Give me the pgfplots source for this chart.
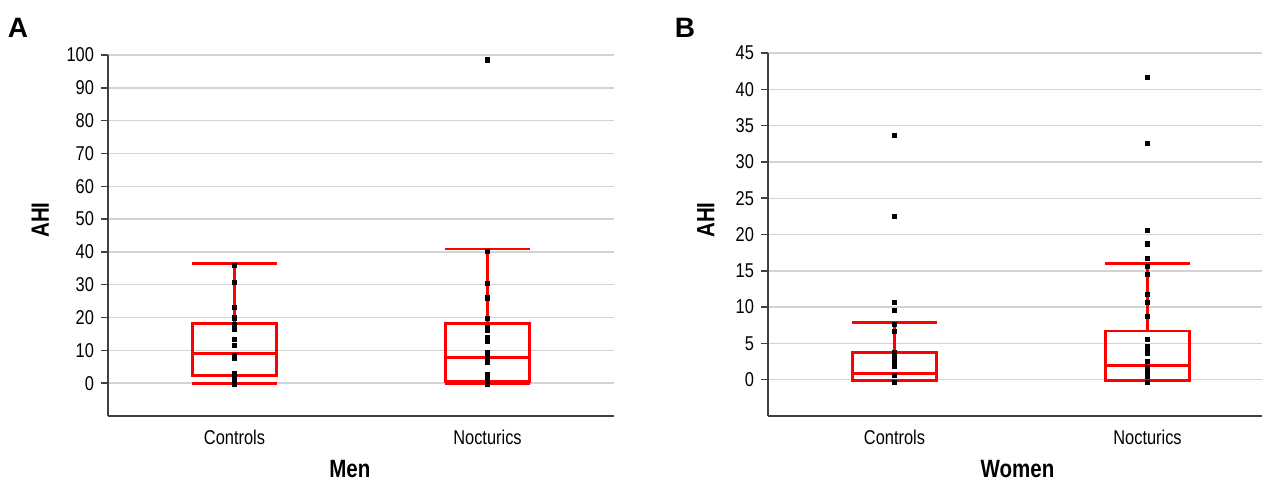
\documentclass[border=0pt]{standalone}
\usepackage{fontspec}
\setmainfont{Liberation Sans}[FakeStretch=0.82]
\newfontfamily\panelfont{Liberation Sans}
\usepackage{pgfplots}
\pgfplotsset{compat=1.18}
\usepgfplotslibrary{statistics}
\definecolor{gridgray}{HTML}{D3D3D3}
\definecolor{axgray}{HTML}{404040}
\pgfplotsset{mystyle/.style={
  scale only axis, width=253pt,
  xmin=-0.5, xmax=1.5, xtick={0,1}, xticklabels={Controls,Nocturics},
  axis x line*=bottom, axis y line*=left,
  axis line style={axgray, line width=0.75pt},
  xtick style={draw=none}, ytick style={axgray, line width=0.75pt},
  tick align=outside, major tick length=3.5pt,
  ymajorgrids, grid style={gridgray, line width=0.7pt},
  tick label style={font=\fontsize{10}{12}\selectfont, black},
  /pgf/number format/assume math mode=true,
  label style={font=\bfseries\fontsize{12.5}{15}\selectfont},
  boxplot/draw direction=y,
  boxplot/box extend=0.335, boxplot/whisker extend=0.335,
  clip=false,
}}
\begin{document}
\begin{tikzpicture}
\useasboundingbox (0,0) rectangle (631pt,240.5pt);
% Panel A
\begin{axis}[mystyle, at={(54pt,32.5pt)}, anchor=south west, height=180.5pt,
  ymin=-10, ymax=100, ytick={0,10,...,100},
  xlabel={Men}, ylabel={AHI},
  xlabel style={at={(axis description cs:0.478,0)}, anchor=center, yshift=-26.6pt},
  ylabel style={at={(axis description cs:-0.134,0.543)}, anchor=center}]
\addplot[red, line width=1.4pt, boxplot prepared={draw position=0, median=9.0, upper quartile=18.2, lower quartile=2.4, upper whisker=36.5, lower whisker=0}] coordinates {};
\addplot[red, line width=1.4pt, boxplot prepared={draw position=1, median=7.9, upper quartile=18.1, lower quartile=0.6, upper whisker=40.9, lower whisker=0}] coordinates {};
\addplot[only marks, mark=square*, mark size=1.05pt, black] coordinates {
 (0,36) (0,30.8) (0,23) (0,19.9) (0,18) (0,17.2) (0,16.5) (0,13.4) (0,11.6) (0,8.5) (0,7.5) (0,3) (0,2) (0,1) (0,0) (0,-0.4)
};
\addplot[only marks, mark=square*, mark size=1.05pt, black] coordinates {
 (1,98.5) (1,40.2) (1,30.4) (1,26) (1,19.8) (1,17) (1,16) (1,14) (1,12.8) (1,9.5) (1,8.5) (1,7.5) (1,6.5) (1,2.5) (1,1.5) (1,0.5) (1,0) (1,-0.4)
};
\end{axis}
% Panel B
\begin{axis}[mystyle, at={(384pt,32.5pt)}, anchor=south west, height=181.5pt,
  ymin=-5, ymax=45, ytick={0,5,...,45},
  xlabel={Women}, ylabel={AHI},
  xlabel style={at={(axis description cs:0.493,0)}, anchor=center, yshift=-26.6pt},
  ylabel style={at={(axis description cs:-0.123,0.54)}, anchor=center}]
\addplot[red, line width=1.4pt, boxplot prepared={draw position=0, median=0.9, upper quartile=3.75, lower quartile=-0.15, upper whisker=7.9, lower whisker=-0.15}] coordinates {};
\addplot[red, line width=1.4pt, boxplot prepared={draw position=1, median=2.0, upper quartile=6.7, lower quartile=-0.15, upper whisker=16.0, lower whisker=-0.15}] coordinates {};
\addplot[only marks, mark=square*, mark size=1.05pt, black] coordinates {
 (0,33.6) (0,22.5) (0,10.6) (0,9.5) (0,7.6) (0,6.6) (0,3.7) (0,3.2) (0,2.5) (0,1.8) (0,0.6) (0,-0.4)
};
\addplot[only marks, mark=square*, mark size=1.05pt, black] coordinates {
 (1,41.6) (1,32.5) (1,20.6) (1,18.7) (1,16.7) (1,15.6) (1,14.5) (1,11.7) (1,10.6) (1,8.7) (1,5.6) (1,4.6) (1,4.1) (1,3.7) (1,2.5) (1,1.7) (1,1) (1,0.4) (1,-0.4)
};
\end{axis}
\node[font=\panelfont\bfseries\fontsize{14}{16}\selectfont] at (9pt,226.5pt) {A};
\node[font=\panelfont\bfseries\fontsize{14}{16}\selectfont] at (342.5pt,226.5pt) {B};
\end{tikzpicture}
\end{document}
